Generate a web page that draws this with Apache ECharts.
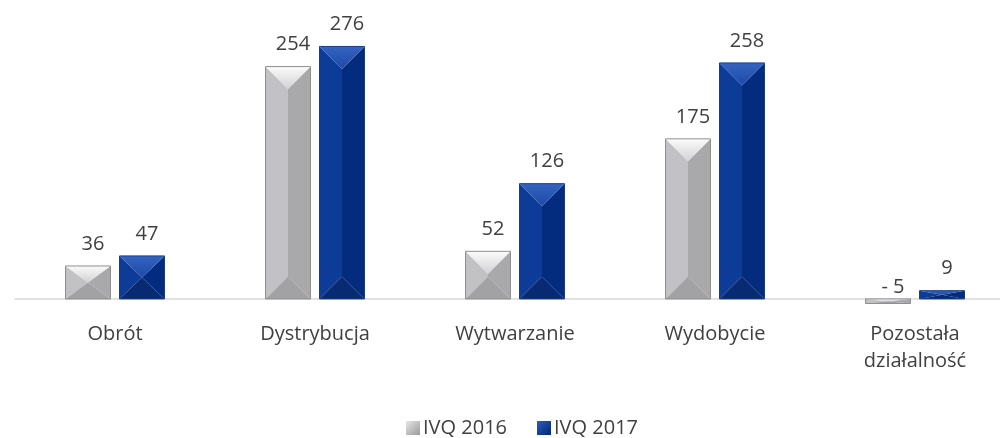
<!DOCTYPE html>
<html>
<head>
<meta charset="utf-8">
<script src="https://cdn.jsdelivr.net/npm/echarts@6/dist/echarts.min.js"></script>
<style>
  html, body { margin: 0; padding: 0; background: #ffffff; overflow: hidden; }
  /* the plot runs slightly past the right edge of the page */
  #chart { width: 1015px; height: 438px; }
</style>
</head>
<body>
<div id="chart"></div>
<script>
// Segments of the business
const categories = ['Obrót', 'Dystrybucja', 'Wytwarzanie', 'Wydobycie', 'Pozostała\ndziałalność'];
const seriesNames = ['IVQ 2016', 'IVQ 2017'];
const values2016 = [36, 254, 52, 175, -5];
const values2017 = [47, 276, 126, 258, 9];

const FONT = '"Open Sans", "Noto Sans", sans-serif';
const TEXT = '#404040';

// Facet colours of the bevelled bars: left face, right face, top, bottom, outline
const PALETTES = [
  { left: '#c2c1c3', right: '#a9a8aa', top: ['#fbfbfb', '#d2d1d3'], bottom: '#a2a1a3', stroke: '#8e8e8e' },
  { left: '#0d3b98', right: '#032c7e', top: ['#3563c0', '#1d4aa8'], bottom: '#072a72', stroke: '#1b3c82' }
];

// accounting-style number: negatives written as "- n"
function fmt(v) {
  return v < 0 ? '- ' + Math.abs(v) : String(v);
}

function bevelBar(offset, pal) {
  return function (params, api) {
    const ci = api.value(0);
    const v = api.value(1);
    const base = api.coord([ci, 0]);
    const tip = api.coord([ci, v]);
    const band = api.size([1, 0])[0];
    const w = band * 0.225;
    const cx = base[0] + offset * band;
    const x0 = cx - w / 2, x1 = cx + w / 2;
    const y0 = Math.min(base[1], tip[1]);
    const y1 = Math.max(base[1], tip[1]);
    const h = y1 - y0;
    const d = Math.min(w / 2, h / 2);
    const children = [
      { type: 'polygon', shape: { points: [[x0, y0], [cx, y0 + d], [cx, y1 - d], [x0, y1]] },
        style: { fill: pal.left } },
      { type: 'polygon', shape: { points: [[x1, y0], [cx, y0 + d], [cx, y1 - d], [x1, y1]] },
        style: { fill: pal.right } },
      { type: 'polygon', shape: { points: [[x0, y0], [x1, y0], [cx, y0 + d]] },
        style: { fill: new echarts.graphic.LinearGradient(0, 0, 0, 1, [
          { offset: 0, color: pal.top[0] }, { offset: 1, color: pal.top[1] }]) } },
      { type: 'polygon', shape: { points: [[x0, y1], [x1, y1], [cx, y1 - d]] },
        style: { fill: pal.bottom } },
      { type: 'rect', shape: { x: x0, y: y0, width: w, height: h },
        style: { fill: 'none', stroke: pal.stroke, lineWidth: 1 } },
      { type: 'text',
        style: {
          text: fmt(v),
          x: cx + 5,
          y: v < 0 ? base[1] - 2 : y0 - 12,
          textAlign: 'center',
          textVerticalAlign: 'bottom',
          fontSize: 20,
          fontFamily: FONT,
          fill: TEXT
        } }
    ];
    return { type: 'group', children: children };
  };
}

function toData(arr) {
  return arr.map(function (v, i) { return [i, v]; });
}

const chart = echarts.init(document.getElementById('chart'), null, { renderer: 'canvas' });
chart.setOption({
  animation: false,
  backgroundColor: '#ffffff',
  grid: { left: 15, right: 0, top: 24.5, height: 292.7 },
  legend: {
    left: 401,
    top: 413,
    itemWidth: 14,
    itemHeight: 14,
    itemGap: 30,
    icon: 'rect',
    textStyle: { fontSize: 20, fontFamily: FONT, color: TEXT, padding: [0, 0, 0, -2] },
    data: [
      { name: seriesNames[0], itemStyle: { color: new echarts.graphic.LinearGradient(0, 0, 1, 1, [
        { offset: 0, color: '#e6e6e6' }, { offset: 1, color: '#9a9a9a' }]) } },
      { name: seriesNames[1], itemStyle: { color: new echarts.graphic.LinearGradient(0, 0, 1, 1, [
        { offset: 0, color: '#2a5cc0' }, { offset: 1, color: '#02286f' }]) } }
    ]
  },
  xAxis: {
    type: 'category',
    data: categories,
    axisLine: { onZero: true, lineStyle: { color: '#d9d9d9', width: 1.5 } },
    axisTick: { show: false },
    axisLabel: {
      fontSize: 20, fontFamily: FONT, color: TEXT, margin: 4, lineHeight: 27, interval: 0
    }
  },
  yAxis: {
    type: 'value',
    min: -20,
    max: 300,
    show: false,
    splitLine: { show: false }
  },
  series: [
    {
      name: seriesNames[0],
      type: 'custom',
      renderItem: bevelBar(-0.135, PALETTES[0]),
      itemStyle: { color: '#b5b5b5' },
      data: toData(values2016)
    },
    {
      name: seriesNames[1],
      type: 'custom',
      renderItem: bevelBar(0.135, PALETTES[1]),
      itemStyle: { color: '#0a338c' },
      data: toData(values2017)
    }
  ]
});
</script>
</body>
</html>
